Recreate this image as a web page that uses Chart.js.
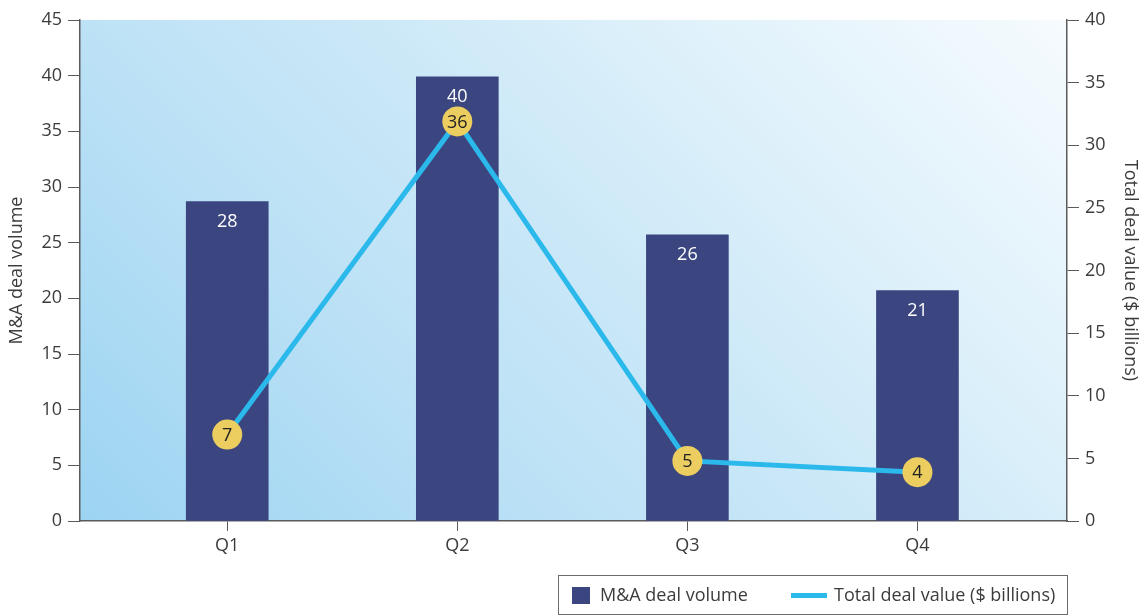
<!DOCTYPE html>
<html><head><meta charset="utf-8">
<script src="https://cdn.jsdelivr.net/npm/chart.js@4.4.1/dist/chart.umd.min.js"></script>
<style>html,body{margin:0;padding:0;background:#fff}#wrap{width:1144px;height:616px;position:relative}</style>
</head><body><div id="wrap"><canvas id="c" width="1144" height="616"></canvas></div>
<script>
const quarters = ['Q1', 'Q2', 'Q3', 'Q4'];
const dealVolume = [28.7, 39.9, 25.7, 20.7];
const dealVolumeLabels = ['28', '40', '26', '21'];
const dealValue = [6.9, 31.9, 4.8, 3.9];
const dealValueLabels = ['7', '36', '5', '4'];
const volumeTitle = 'M&A deal volume';
const valueTitle = 'Total deal value ($ billions)';

const FONT = '"Open Sans", "Noto Sans", sans-serif';
const FS = 18;
const TEXT = '#3c3c3c';
const AXIS = '#5a5a5a';
const BAR = '#3B4680';
const LINE = '#2BB9EC';
const DOT = '#EBCD60';

const bgPlugin = {
  id: 'bg',
  beforeDraw(chart) {
    const {ctx, chartArea: a} = chart;
    const w = a.right - a.left, h = a.bottom - a.top;
    const d = (w + h) / 2;
    const g = ctx.createLinearGradient(a.left, a.bottom, a.left + d, a.bottom - d);
    g.addColorStop(0, '#9CD4F2');
    g.addColorStop(0.35, '#BEE2F6');
    g.addColorStop(0.5, '#C9E7F7');
    g.addColorStop(0.68, '#DAEFFA');
    g.addColorStop(1, '#F6FBFE');
    ctx.save();
    ctx.fillStyle = g;
    ctx.fillRect(a.left, a.top, w, h);
    ctx.restore();
  }
};

const labelPlugin = {
  id: 'labels',
  afterDatasetsDraw(chart) {
    const {ctx} = chart;
    ctx.save();
    ctx.font = FS + 'px ' + FONT;
    ctx.textAlign = 'center';
    ctx.textBaseline = 'middle';
    const barMeta = chart.getDatasetMeta(0);
    barMeta.data.forEach((el, i) => {
      ctx.fillStyle = '#ffffff';
      ctx.fillText(dealVolumeLabels[i], el.x, el.y + 20);
    });
    const lineMeta = chart.getDatasetMeta(1);
    lineMeta.data.forEach((el, i) => {
      ctx.fillStyle = '#222222';
      ctx.fillText(dealValueLabels[i], el.x, el.y + 1);
    });
    ctx.restore();
  }
};

const legendPlugin = {
  id: 'boxLegend',
  afterDraw(chart) {
    const {ctx} = chart;
    const ds = chart.data.datasets;
    ctx.save();
    ctx.strokeStyle = '#6b6b6b';
    ctx.lineWidth = 1;
    ctx.strokeRect(558.5, 575.5, 509, 39);
    ctx.fillStyle = ds[0].backgroundColor;
    ctx.fillRect(572, 587, 18, 17);
    ctx.font = FS + 'px ' + FONT;
    ctx.textBaseline = 'middle';
    ctx.textAlign = 'left';
    ctx.fillStyle = TEXT;
    ctx.fillText(ds[0].label, 600, 596);
    ctx.strokeStyle = ds[1].borderColor;
    ctx.lineWidth = 5;
    ctx.beginPath();
    ctx.moveTo(791, 595.5);
    ctx.lineTo(827, 595.5);
    ctx.stroke();
    ctx.fillStyle = TEXT;
    ctx.fillText(ds[1].label, 834, 596);
    ctx.restore();
  }
};

new Chart(document.getElementById('c'), {
  type: 'bar',
  data: {
    datasets: [
      {
        type: 'bar',
        label: volumeTitle,
        data: quarters.map((q, i) => ({x: i, y: dealVolume[i]})),
        backgroundColor: BAR,
        barThickness: 82,
        yAxisID: 'y',
        order: 2
      },
      {
        type: 'line',
        label: valueTitle,
        data: quarters.map((q, i) => ({x: i, y: dealValue[i]})),
        borderColor: LINE,
        borderWidth: 5,
        pointRadius: 15,
        pointHoverRadius: 15,
        pointBackgroundColor: DOT,
        pointBorderColor: DOT,
        pointBorderWidth: 0,
        tension: 0,
        yAxisID: 'y1',
        order: 1
      }
    ]
  },
  options: {
    responsive: false,
    animation: false,
    devicePixelRatio: 1,
    layout: {padding: {top: 20, left: 0, right: 0, bottom: 0}},
    plugins: {legend: {display: false}, tooltip: {enabled: false}},
    scales: {
      x: {
        type: 'linear',
        offset: false,
        min: -0.64,
        max: 3.65,
        afterBuildTicks(s) { s.ticks = quarters.map((q, i) => ({value: i})); },
        afterFit(s) { s.height = 95; },
        ticks: {
          autoSkip: false,
          callback: (v) => quarters[v],
          color: TEXT,
          font: {family: FONT, size: FS},
          padding: 4,
          maxRotation: 0
        },
        grid: {offset: false, drawOnChartArea: false, drawTicks: true, tickLength: 10, color: AXIS},
        border: {display: true, color: AXIS, width: 1.5}
      },
      y: {
        position: 'left',
        min: 0,
        max: 45,
        afterFit(s) { s.width = 80; },
        ticks: {stepSize: 5, color: TEXT, font: {family: FONT, size: FS}, padding: 6},
        grid: {drawOnChartArea: false, drawTicks: true, tickLength: 12, color: AXIS},
        border: {display: true, color: AXIS, width: 1.5},
        title: {display: true, text: volumeTitle, color: TEXT, font: {family: FONT, size: FS}, padding: {top: 6, bottom: 0}}
      },
      y1: {
        position: 'right',
        min: 0,
        max: 40,
        afterFit(s) { s.width = 77; },
        ticks: {stepSize: 5, color: TEXT, font: {family: FONT, size: FS}, padding: 6},
        grid: {drawOnChartArea: false, drawTicks: true, tickLength: 12, color: AXIS},
        border: {display: true, color: AXIS, width: 1.5},
        title: {display: true, text: valueTitle, color: TEXT, font: {family: FONT, size: FS}, padding: {top: 3, bottom: 0}}
      }
    }
  },
  plugins: [bgPlugin, labelPlugin, legendPlugin]
});
</script></body></html>
